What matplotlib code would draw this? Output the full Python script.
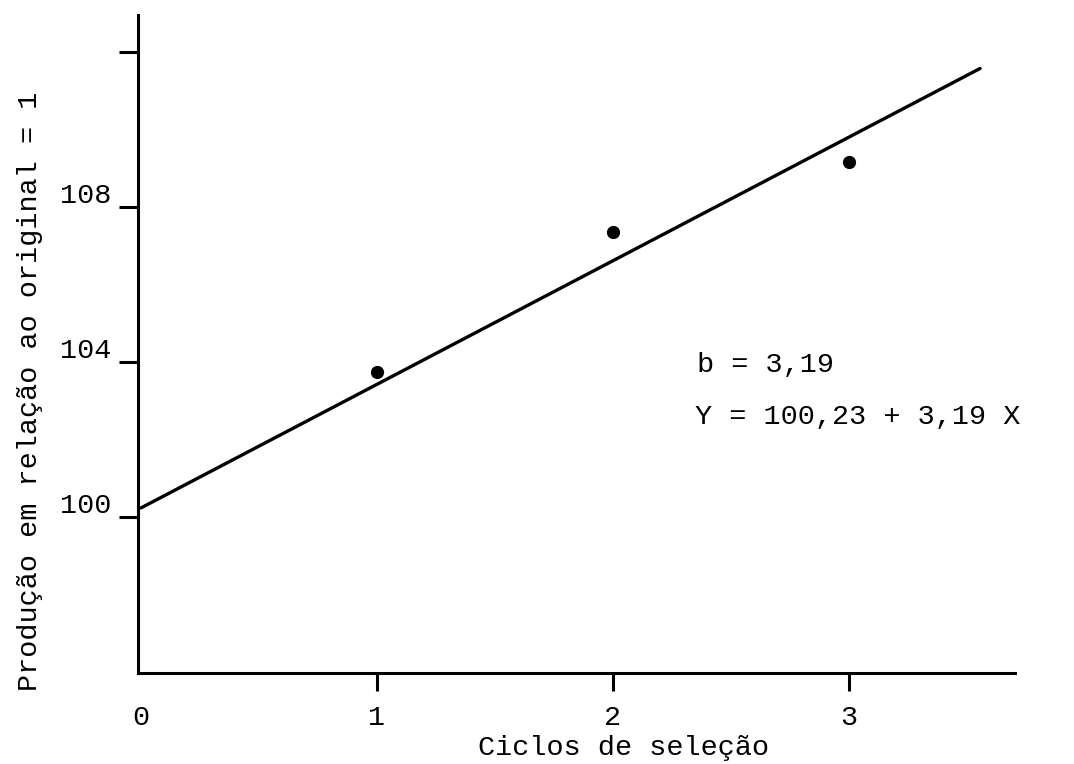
import matplotlib
matplotlib.use("Agg")
import matplotlib.pyplot as plt
import matplotlib.transforms as mtransforms
import numpy as np

# data
ciclos = [1, 2, 3]
producao = [103.74, 107.35, 109.16]

# fitted line, Y = a + b X
a = 100.23
b = 3.19
x_fit_end = 3.555

xticks = [0, 1, 2, 3]
xticklabels = ["0", "1", "2", "3"]
yticks = [100, 104, 108, 112]
yticklabels = ["100", "104", "108", ""]

plt.rcParams["font.family"] = ["Liberation Mono", "DejaVu Sans Mono"]
plt.rcParams["font.size"] = 20.5

fig = plt.figure(figsize=(10.74, 7.64), dpi=100)
ax = fig.add_axes([138 / 1074, 1 - 673 / 764, 877 / 1074, 658 / 764])

xf = np.array([0, x_fit_end])
ax.plot(xf, a + b * xf, color="black", linewidth=2.4, solid_capstyle="round")
ax.plot(ciclos, producao, "o", color="black", markersize=8.5)

ax.set_xlim(-0.0127, 3.703)
ax.set_ylim(95.97, 112.95)

for s in ["top", "right"]:
    ax.spines[s].set_visible(False)
for s in ["left", "bottom"]:
    ax.spines[s].set_linewidth(2.2)

ax.set_xticks(xticks)
ax.set_xticklabels(xticklabels)
ax.set_yticks(yticks)
ax.set_yticklabels(yticklabels)
ax.tick_params(axis="x", direction="out", length=13, width=2.2, pad=10)
ax.tick_params(axis="y", direction="out", length=14, width=2.2, pad=5)
ax.get_xticklines()[0].set_visible(False)

# typewriter labels sit a little above their tick marks
offset = mtransforms.ScaledTranslation(0, 10 / 72, fig.dpi_scale_trans)
for lab in ax.get_yticklabels():
    lab.set_transform(lab.get_transform() + offset)

fig.text(624 / 1074, 1 - 748 / 764, "Ciclos de seleção", ha="center", va="center")
fig.text(30 / 1074, 1 - 391 / 764, "Produção em relação ao original = 1",
         ha="center", va="center", rotation=90)

fig.text(697 / 1074, 1 - 365 / 764, "b = 3,19", ha="left", va="center")
fig.text(695 / 1074, 1 - 417 / 764, "Y = 100,23 + 3,19 X", ha="left", va="center")

fig.savefig("out.png", dpi=100)
